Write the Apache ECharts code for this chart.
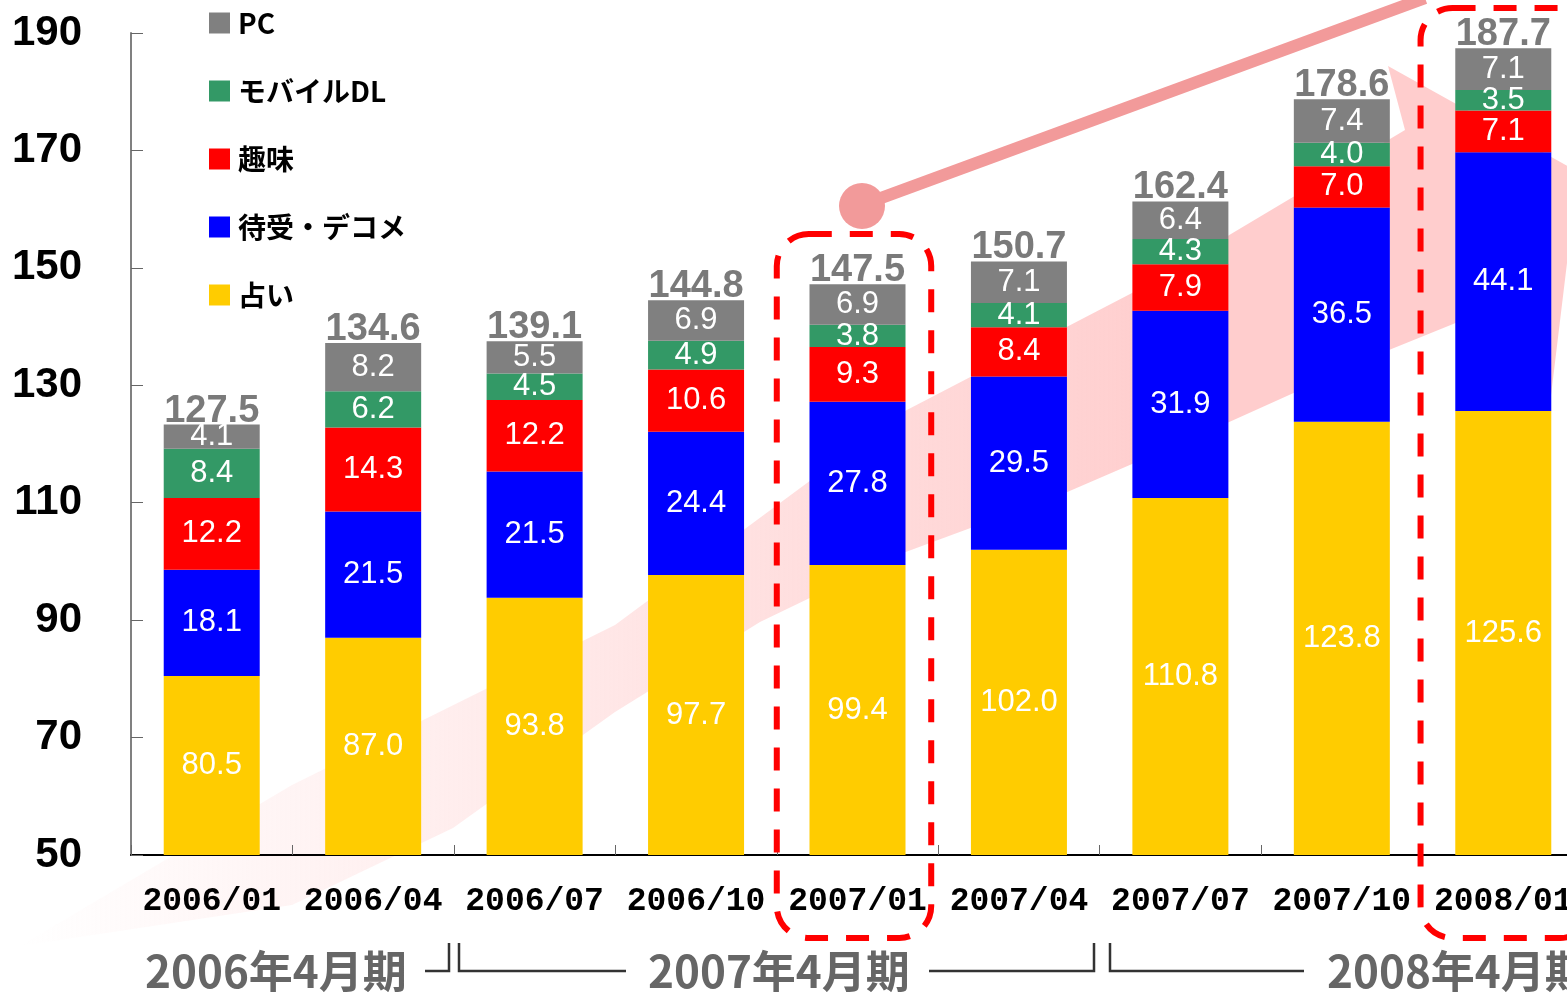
<!DOCTYPE html>
<html>
<head>
<meta charset="utf-8">
<title>ジャンル別売上推移</title>
<script src="https://cdn.jsdelivr.net/npm/echarts@6/dist/echarts.min.js"></script>
<style>
  html, body { margin: 0; padding: 0; background: #fff; }
  #main { width: 1567px; height: 992px; }
</style>
</head>
<body>
<div id="main"></div>
<script>
// 横軸（四半期）
const quarters = ["2006/01", "2006/04", "2006/07", "2006/10", "2007/01", "2007/04", "2007/07", "2007/10", "2008/01"];
// ジャンル別の値（下から積み上げ）
const uranai = [80.5, 87.0, 93.8, 97.7, 99.4, 102.0, 110.8, 123.8, 125.6]; // 占い
const machiuke = [18.1, 21.5, 21.5, 24.4, 27.8, 29.5, 31.9, 36.5, 44.1]; // 待受・デコメ
const shumi = [12.2, 14.3, 12.2, 10.6, 9.3, 8.4, 7.9, 7.0, 7.1]; // 趣味
const mobileDL = [8.4, 6.2, 4.5, 4.9, 3.8, 4.1, 4.3, 4.0, 3.5]; // モバイルDL
const pc = [4.1, 8.2, 5.5, 6.9, 6.9, 7.1, 6.4, 7.4, 7.1]; // PC
// 棒の上に書かれている合計
const totals = [127.5, 134.6, 139.1, 144.8, 147.5, 150.7, 162.4, 178.6, 187.7];
// 縦軸の目盛り
const yMin = 50;
const yMax = 190;
const yStep = 20;
// 決算期
const periods = ["2006年4月期", "2007年4月期", "2008年4月期"];

const jpFont = '"Noto Sans CJK JP", sans-serif';
const numFont = '"Liberation Sans", Arial, sans-serif';

// 積み上げの頂点（合計ラベルの位置用）
const stackTop = quarters.map((q, i) => uranai[i] + machiuke[i] + shumi[i] + mobileDL[i] + pc[i]);

function segment(name, data, color) {
  return {
    name: name,
    type: "bar",
    stack: "total",
    data: data,
    barWidth: 96,
    itemStyle: { color: color },
    label: {
      show: true,
      position: "inside",
      color: "#fff",
      fontFamily: numFont,
      fontSize: 31,
      formatter: (p) => p.value.toFixed(1),
    },
    emphasis: { disabled: true },
  };
}

const chart = echarts.init(document.getElementById("main"));

const option = {
  animation: false,
  grid: { left: 131, top: 33, bottom: 137, right: -17, outerBoundsMode: "none", containLabel: false },
  legend: {
    data: ["PC", "モバイルDL", "趣味", "待受・デコメ", "占い"],
    orient: "vertical",
    left: 204,
    top: 3,
    icon: "rect",
    itemWidth: 21,
    itemHeight: 21,
    itemGap: 38,
    itemStyle: { borderWidth: 0 },
    textStyle: {
      fontFamily: jpFont,
      fontSize: 28,
      fontWeight: "bold",
      color: "#000",
      lineHeight: 30,
      padding: [0, 0, 0, 3],
    },
  },
  xAxis: {
    type: "category",
    data: quarters,
    axisLine: { show: true, lineStyle: { color: "#000", width: 2 } },
    axisTick: { show: true, inside: true, length: 10, lineStyle: { color: "#666", width: 1 } },
    axisLabel: {
      color: "#000",
      fontFamily: '"Liberation Mono", monospace',
      fontWeight: "bold",
      fontSize: 33,
      margin: 30,
      interval: 0,
    },
  },
  yAxis: {
    type: "value",
    min: yMin,
    max: yMax,
    interval: yStep,
    splitLine: { show: false },
    axisLine: { show: true, lineStyle: { color: "#808080", width: 2 } },
    axisTick: { show: true, inside: true, length: 12, lineStyle: { color: "#666", width: 1 } },
    axisLabel: {
      color: "#000",
      fontFamily: numFont,
      fontWeight: "bold",
      fontSize: 42,
      margin: 49,
    },
  },
  series: [
    segment("占い", uranai, "#FFCC00"),
    segment("待受・デコメ", machiuke, "#0000FF"),
    segment("趣味", shumi, "#FF0000"),
    segment("モバイルDL", mobileDL, "#339966"),
    segment("PC", pc, "#808080"),
    {
      name: "合計",
      type: "scatter",
      data: stackTop,
      symbolSize: 1,
      itemStyle: { color: "rgba(0,0,0,0)" },
      z: 5,
      label: {
        show: true,
        position: "top",
        distance: -6,
        color: "#595959",
        fontFamily: numFont,
        fontWeight: "bold",
        fontSize: 38,
        formatter: (p) => totals[p.dataIndex].toFixed(1),
      },
      emphasis: { disabled: true },
    },
  ],
};

chart.setOption(option);

// 注釈（矢印・点線枠・決算期）
const band = chart.convertToPixel({ xAxisIndex: 0 }, quarters[1]) - chart.convertToPixel({ xAxisIndex: 0 }, quarters[0]);
const x2007 = chart.convertToPixel({ xAxisIndex: 0 }, "2007/01") - band / 2;
const x2008 = chart.convertToPixel({ xAxisIndex: 0 }, "2008/01") - band / 2;

const pink = "#F29A9A";
const bracket = { stroke: "#333", lineWidth: 2.5, fill: null };

chart.setOption({
  graphic: [
    {
      type: "polygon",
      z: -10,
      silent: true,
      shape: {
        points: [
          [20, 946], [292, 785], [615, 625], [903, 412], [1132, 293], [1293, 197], [1405, 130],
          [1388, 66], [1578, 172], [1549, 412], [1468, 318],
          [1389, 350], [1227, 423], [1065, 493], [903, 553], [760, 622], [615, 712], [453, 828], [292, 905],
        ],
      },
      style: {
        fill: new echarts.graphic.LinearGradient(0, 0, 1, 0, [
          { offset: 0, color: "rgba(255,205,205,0)" },
          { offset: 0.2, color: "rgba(255,205,205,0.25)" },
          { offset: 0.5, color: "rgba(255,205,205,0.65)" },
          { offset: 0.75, color: "rgba(255,205,205,1)" },
          { offset: 1, color: "rgba(255,205,205,1)" },
        ]),
      },
    },
    {
      type: "line",
      z: 20,
      silent: true,
      shape: { x1: 862, y1: 205, x2: 1425, y2: -2 },
      style: { stroke: pink, lineWidth: 12 },
    },
    {
      type: "circle",
      z: 20,
      silent: true,
      shape: { cx: 862, cy: 206, r: 23 },
      style: { fill: pink },
    },
    {
      type: "rect",
      z: 20,
      silent: true,
      shape: { x: x2007, y: 234, width: band - 7, height: 704, r: 32 },
      style: { fill: null, stroke: "#FF0000", lineWidth: 6, lineDash: [23, 18] },
    },
    {
      type: "rect",
      z: 20,
      silent: true,
      shape: { x: x2008 - 2, y: 8, width: band + 10, height: 930, r: 32 },
      style: { fill: null, stroke: "#FF0000", lineWidth: 6, lineDash: [23, 18] },
    },
    { type: "polyline", silent: true, shape: { points: [[425, 971], [449, 971], [449, 943]] }, style: bracket },
    { type: "polyline", silent: true, shape: { points: [[459, 943], [459, 971], [626, 971]] }, style: bracket },
    { type: "polyline", silent: true, shape: { points: [[929, 971], [1094, 971], [1094, 943]] }, style: bracket },
    { type: "polyline", silent: true, shape: { points: [[1110, 943], [1110, 971], [1304, 971]] }, style: bracket },
    {
      type: "text", silent: true, x: 145, y: 971,
      style: { text: periods[0], font: "bold 44px " + jpFont, fill: "#666", verticalAlign: "middle" },
    },
    {
      type: "text", silent: true, x: 648, y: 971,
      style: { text: periods[1], font: "bold 44px " + jpFont, fill: "#666", verticalAlign: "middle" },
    },
    {
      type: "text", silent: true, x: 1327, y: 971,
      style: { text: periods[2], font: "bold 44px " + jpFont, fill: "#666", verticalAlign: "middle" },
    },
  ],
});

window.addEventListener("resize", () => {
  chart.resize();
});
</script>
</body>
</html>
